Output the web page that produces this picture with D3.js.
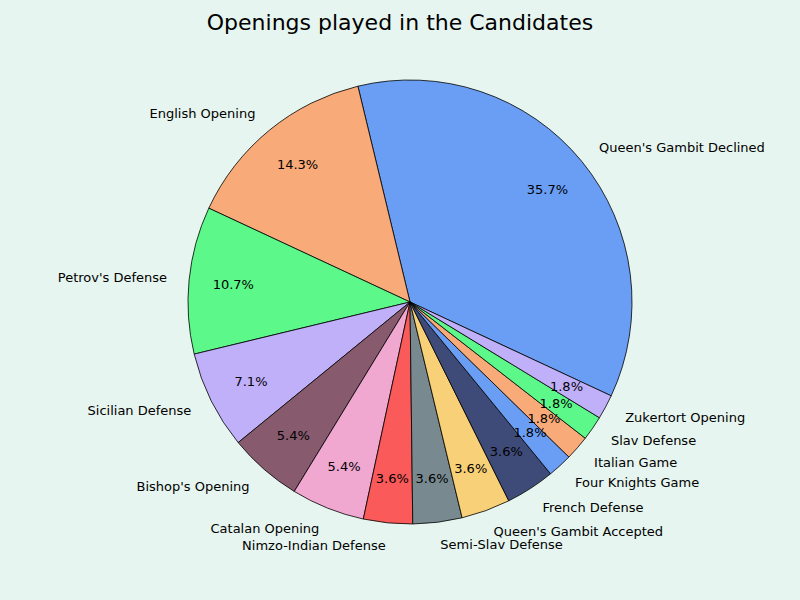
<!DOCTYPE html>
<html><head><meta charset="utf-8">
<script src="https://cdn.jsdelivr.net/npm/d3@7"></script>
<style>body{margin:0;background:#e6f5ef}</style>
</head><body><div id="chart"></div>
<script>
const openings = ["Queen's Gambit Declined","English Opening","Petrov's Defense","Sicilian Defense",
  "Bishop's Opening","Catalan Opening","Nimzo-Indian Defense","Semi-Slav Defense",
  "Queen's Gambit Accepted","French Defense","Four Knights Game","Italian Game","Slav Defense","Zukertort Opening"];
const games = [20,8,6,4,3,3,2,2,2,2,1,1,1,1];
const colors = ["#6a9ef5","#f8aa78","#5cf98a","#c0b0fa","#875a6e","#f0a8d0","#fa5a5a","#788a90",
  "#f8d078","#3e4a78","#6a9ef5","#f8aa78","#5cf98a","#c0b0fa"];

const width = 800, height = 600;
const cx = 410, cy = 302, r = 222;
const startAngle = -25; // degrees, counterclockwise like matplotlib

const svg = d3.select("#chart").append("svg")
    .attr("width", width).attr("height", height)
    .style("font-family", "DejaVu Sans");

svg.append("rect").attr("width", width).attr("height", height).attr("fill", "#e6f5ef");

svg.append("text").attr("x", width / 2).attr("y", 30)
    .attr("text-anchor", "middle").attr("font-size", 22).text("Openings played in the Candidates");

// d3.pie runs clockwise from 12 o'clock; convert matplotlib angle
const a0 = (90 - startAngle) * Math.PI / 180;
const pie = d3.pie().sort(null).value(d => d)
    .startAngle(a0).endAngle(a0 - 2 * Math.PI);
const arcs = pie(games);
const arc = d3.arc().innerRadius(0).outerRadius(r);
const total = d3.sum(games);

const g = svg.append("g").attr("transform", `translate(${cx},${cy})`);

g.selectAll("path").data(arcs).join("path")
    .attr("d", arc)
    .attr("fill", (d, i) => colors[i])
    .attr("stroke", "#000").attr("stroke-width", 0.8);

const pos = (d, k) => {
  const a = (d.startAngle + d.endAngle) / 2;
  return [k * r * Math.sin(a), -k * r * Math.cos(a)];
};

g.selectAll("text.lab").data(arcs).join("text")
    .attr("class", "lab")
    .attr("x", d => pos(d, 1.1)[0]).attr("y", d => pos(d, 1.1)[1])
    .attr("dy", "0.35em").attr("font-size", 13)
    .attr("text-anchor", d => pos(d, 1.1)[0] > 0 ? "start" : "end")
    .text((d, i) => openings[i]);

g.selectAll("text.pct").data(arcs).join("text")
    .attr("class", "pct")
    .attr("x", d => pos(d, 0.8)[0]).attr("y", d => pos(d, 0.8)[1])
    .attr("dy", "0.35em").attr("font-size", 13).attr("text-anchor", "middle")
    .text(d => (d.value / total * 100).toFixed(1) + "%");
</script></body></html>
